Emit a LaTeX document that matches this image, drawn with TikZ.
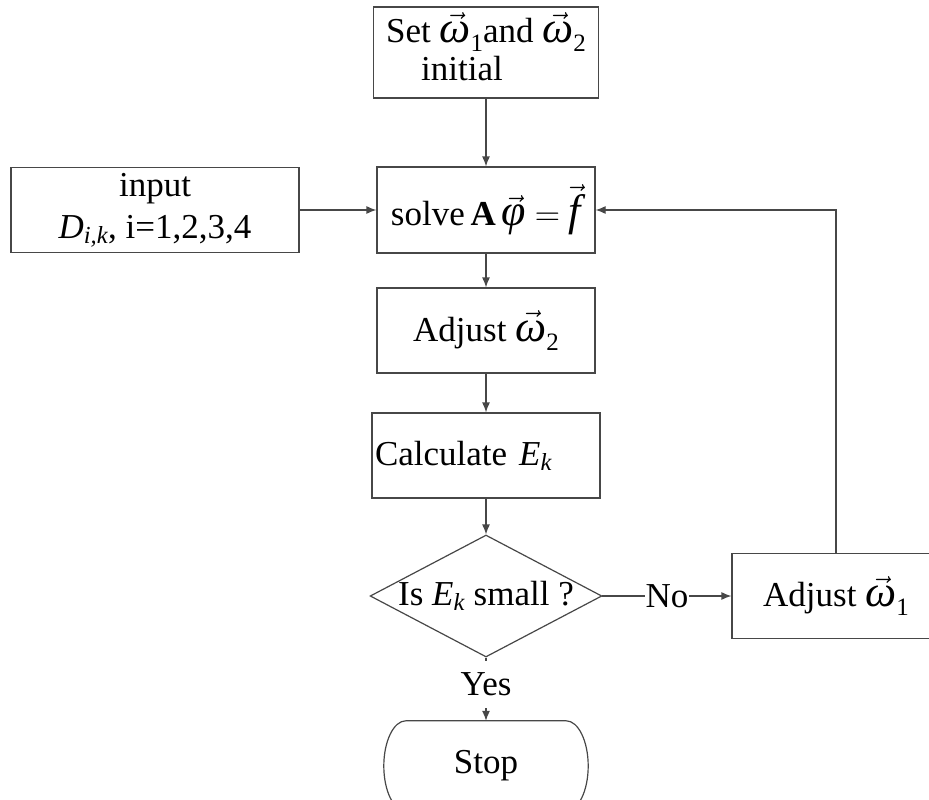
\RequirePackage{fix-cm}
\documentclass[tikz,border=0pt]{standalone}
\usepackage{fontspec}
\setmainfont{Liberation Serif}
\usepackage{amsmath}
\usetikzlibrary{arrows.meta,shapes.geometric,calc}
% italic letters taken from the text font
\newcommand\itx[1]{\text{\itshape #1}}
% larger vector symbols, as set by the equation editor
\newcommand\bigvec[1]{$\vec{\hbox{\fontsize{44}{44}\selectfont\itshape #1}}$}
% omega vector with an upright index
\newcommand\omv[1]{\bigvec{ω}{\fontsize{25}{25}\selectfont\raisebox{-9pt}{#1}}}

\begin{document}
\begin{tikzpicture}[x=1pt,y=-1pt,
  every node/.style={font=\fontsize{35}{42}\selectfont},
  edge/.style={draw=black!72, line width=1.2pt},
  arr/.style={edge, -{Latex[length=10pt,width=8pt]}},
  procbox/.style={edge, rectangle, inner sep=0pt, align=center},
  decbox/.style={edge, diamond, aspect=1.9, inner sep=0pt},
  lbl/.style={fill=white, inner sep=0pt}
]
\useasboundingbox (0,0) rectangle (929,800);

% process boxes
\node[procbox, minimum width=225pt, minimum height=91pt] (set) at (486,52.5)
  {Set \omv{1}and \omv{2}\\[-4pt] initial\hspace*{48pt}\rule[-12pt]{0pt}{0pt}};
\node[procbox, minimum width=288pt, minimum height=85pt] (inp) at (155,210)
  {input\\ $\itx{D}_{\itx{i,k}}$, i=1,2,3,4};
\node[procbox, minimum width=218pt, minimum height=86pt] (solve) at (486,210)
  {solve\,\textbf{A}\,\bigvec{φ} $=$ \bigvec{f}};
\node[procbox, minimum width=218pt, minimum height=85pt] (adj2) at (486,330.5)
  {Adjust \omv{2}};
\node[procbox, minimum width=228pt, minimum height=85pt, text width=222pt, align=left] (calc) at (486,455.5)
  {Calculate\hspace{12pt}$\itx{E}_{\itx{k}}$};
\node[decbox, minimum width=229pt, minimum height=120pt] (dec) at (486,596)
  {Is $\itx{E}_{\itx{k}}$ small ?};
\node[procbox, minimum width=208pt, minimum height=85pt] (adj1) at (836,596)
  {Adjust \omv{1}};
% terminal: text node, outline drawn below with elliptic ends
\node[minimum width=204pt, minimum height=90pt, inner sep=0pt] (stop) at (486,766) {Stop};
\draw[edge] ($(stop.north west)+(22,0)$) -- ($(stop.north east)+(-22,0)$)
  .. controls ($(stop.north east)+(-9.9,0)$) and ($(stop.east)+(0,-24.8)$) .. (stop.east)
  .. controls ($(stop.east)+(0,24.8)$) and ($(stop.south east)+(-9.9,0)$) .. ($(stop.south east)+(-22,0)$)
  -- ($(stop.south west)+(22,0)$)
  .. controls ($(stop.south west)+(9.9,0)$) and ($(stop.west)+(0,24.8)$) .. (stop.west)
  .. controls ($(stop.west)+(0,-24.8)$) and ($(stop.north west)+(9.9,0)$) .. cycle;

% connectors
\draw[arr] (set) -- (solve);
\draw[arr] (inp) -- (solve);
\draw[arr] (solve) -- (adj2);
\draw[arr] (adj2) -- (calc);
\draw[arr] (calc) -- (dec);
\draw[arr] (dec) -- node[lbl, minimum width=44pt] (no) {No} (adj1);
\draw[arr] (adj1.north) |- (solve.east);
\draw[arr] (dec) -- node[lbl, minimum height=47pt, pos=0.42] (yes) {Yes} (stop);
\end{tikzpicture}
\end{document}
